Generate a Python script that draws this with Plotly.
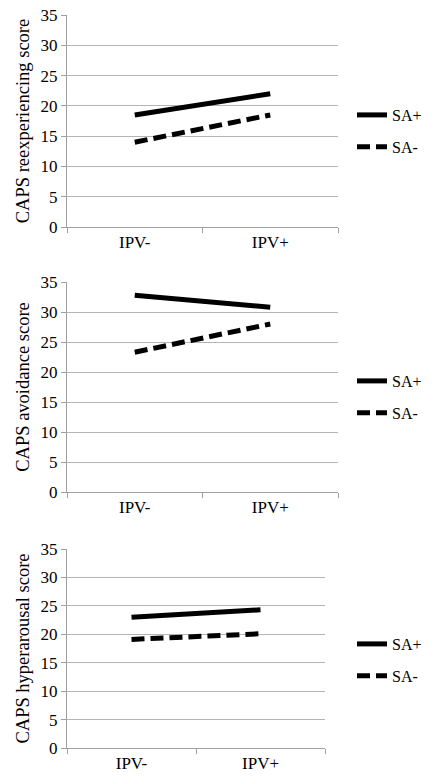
import plotly.graph_objects as go

categories = ["IPV-", "IPV+"]
reexp_sa_pos = [18.5, 22.0]
reexp_sa_neg = [14.0, 18.5]
avoid_sa_pos = [32.8, 30.8]
avoid_sa_neg = [23.3, 28.0]
hyper_sa_pos = [23.0, 24.3]
hyper_sa_neg = [19.1, 20.1]
y_titles = ["CAPS reexperiencing score", "CAPS avoidance score", "CAPS hyperarousal score"]
series_names = ["SA+", "SA-"]

W, H = 435, 779
FONT = "Liberation Serif"
GRID = "#b4b4b4"
AX = "#a0a0a0"

# reference pixel positions of each panel's plot area and legend centre
panels = [
    (reexp_sa_pos, reexp_sa_neg, (67, 338), (15, 227), 131),
    (avoid_sa_pos, avoid_sa_neg, (67, 338), (282, 492), 397),
    (hyper_sa_pos, hyper_sa_neg, (67, 325), (549, 748), 660),
]

fig = go.Figure()
for i, (pos, neg, (x0, x1), (yt, yb), leg_y) in enumerate(panels):
    n = "" if i == 0 else str(i + 1)
    legname = "legend" + n
    fig.add_trace(go.Scatter(x=categories, y=pos, mode="lines", name=series_names[0],
                             line=dict(color="black", width=5),
                             xaxis="x" + n, yaxis="y" + n, legend=legname, legendgroup="a" + n))
    fig.add_trace(go.Scatter(x=categories, y=neg, mode="lines", name=series_names[1],
                             line=dict(color="black", width=5, dash="13px,6px"),
                             xaxis="x" + n, yaxis="y" + n, legend=legname, legendgroup="b" + n))
    xa = dict(domain=[x0 / W, x1 / W], anchor="y" + n, range=[-0.5, 1.5],
              tickson="boundaries", ticks="outside", ticklen=5, tickcolor=AX,
              showline=True, linecolor=AX, linewidth=1, showgrid=False,
              tickfont=dict(family=FONT, size=17, color="black"), fixedrange=True,
              automargin=False, ticklabeloverflow="allow")
    ya = dict(domain=[1 - yb / H, 1 - yt / H], anchor="x" + n, range=[0, 35], dtick=5,
              ticks="outside", ticklen=5, tickcolor=AX, showline=True, linecolor=AX,
              linewidth=1, showgrid=True, gridcolor=GRID, gridwidth=1, zeroline=False,
              tickfont=dict(family=FONT, size=17, color="black"),
              title=dict(text=y_titles[i], font=dict(family=FONT, size=18.5, color="black"), standoff=6),
              fixedrange=True, automargin=False, ticklabeloverflow="allow")
    fig.layout["xaxis" + n] = xa
    fig.layout["yaxis" + n] = ya
    fig.layout[legname] = dict(x=352 / W, y=1 - leg_y / H, xanchor="left", yanchor="middle",
                               font=dict(family=FONT, size=16, color="black"),
                               bgcolor="rgba(0,0,0,0)", tracegroupgap=8, itemwidth=30)

fig.update_layout(width=W, height=H, margin=dict(l=0, r=0, t=0, b=0, autoexpand=False),
                  plot_bgcolor="white", paper_bgcolor="white", showlegend=True)
fig.write_html("out.html", config={"displayModeBar": False},
               post_script="document.body.style.margin='0';")
